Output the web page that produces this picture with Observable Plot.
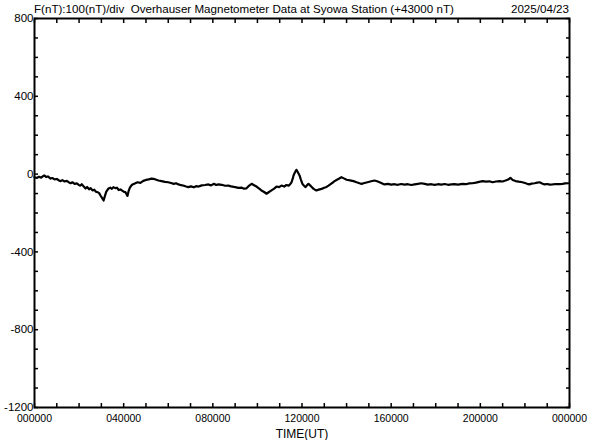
<!DOCTYPE html>
<html>
<head>
<meta charset="utf-8">
<script src="https://cdn.jsdelivr.net/npm/d3@7"></script>
<script src="https://cdn.jsdelivr.net/npm/@observablehq/plot@0.6"></script>
<style>
  html, body { margin: 0; padding: 0; background: white; }
  #wrap { width: 592px; height: 440px; position: relative; font-family: "Liberation Sans", Arial, sans-serif; }
  #title { height: 12px; position: relative; font-size: 11.6px; line-height: 12px; color: black; }
  #title .l { position: absolute; left: 34px; top: 3px; white-space: pre; }
  #title .r { position: absolute; right: 23px; top: 3px; }
  svg { overflow: visible; }
</style>
</head>
<body>
<div id="wrap">
  <div id="title"><span class="l">F(nT):100(nT)/div  Overhauser Magnetometer Data at Syowa Station (+43000 nT)</span><span class="r">2025/04/23</span></div>
  <div id="chart"></div>
</div>
<script>
const hours = [0.00,0.10,0.20,0.30,0.40,0.45,0.52,0.60,0.72,0.80,0.90,1.00,1.10,1.17,1.25,1.35,1.45,1.55,1.62,1.70,1.80,1.90,2.00,2.06,2.12,2.20,2.29,2.36,2.45,2.52,2.60,2.68,2.75,2.83,2.90,2.96,3.03,3.10,3.16,3.22,3.32,3.40,3.47,3.54,3.62,3.70,3.78,3.86,3.95,4.02,4.08,4.13,4.17,4.22,4.28,4.35,4.40,4.50,4.62,4.75,4.88,5.00,5.12,5.25,5.40,5.56,5.70,5.85,6.00,6.12,6.25,6.35,6.46,6.58,6.70,6.80,6.90,7.02,7.15,7.25,7.36,7.50,7.65,7.80,7.92,8.05,8.15,8.25,8.40,8.55,8.70,8.82,8.95,9.05,9.15,9.30,9.40,9.50,9.60,9.74,9.85,9.96,10.08,10.18,10.30,10.41,10.52,10.63,10.75,10.86,10.97,11.08,11.20,11.30,11.40,11.47,11.53,11.58,11.62,11.68,11.75,11.82,11.89,11.95,12.02,12.09,12.16,12.22,12.29,12.40,12.52,12.58,12.65,12.75,12.88,13.00,13.10,13.19,13.30,13.40,13.46,13.55,13.65,13.77,13.88,14.00,14.15,14.31,14.45,14.58,14.67,14.80,14.94,15.10,15.25,15.37,15.48,15.60,15.70,15.85,16.00,16.15,16.30,16.45,16.60,16.75,16.90,17.05,17.20,17.35,17.50,17.65,17.80,17.95,18.10,18.25,18.40,18.55,18.70,18.84,19.00,19.20,19.35,19.50,19.65,19.80,19.95,20.10,20.25,20.40,20.55,20.70,20.86,21.00,21.13,21.25,21.35,21.45,21.58,21.72,21.89,22.00,22.10,22.20,22.30,22.43,22.55,22.66,22.77,22.88,23.00,23.12,23.24,23.40,23.55,23.69,23.80,23.96];
const values = [-16,-20,-14,-18,-9,-7,-15,-12,-23,-20,-27,-25,-33,-36,-31,-38,-35,-43,-47,-42,-50,-48,-57,-59,-52,-63,-74,-66,-78,-72,-84,-80,-90,-93,-98,-110,-122,-136,-112,-90,-74,-70,-76,-67,-72,-70,-82,-79,-86,-92,-93,-104,-112,-88,-70,-58,-53,-48,-42,-45,-35,-30,-27,-23,-26,-33,-36,-40,-42,-46,-50,-47,-53,-57,-60,-64,-67,-63,-68,-62,-64,-58,-56,-53,-58,-50,-56,-53,-55,-60,-59,-63,-66,-68,-71,-70,-75,-74,-62,-50,-57,-64,-75,-84,-92,-101,-92,-84,-75,-64,-67,-59,-64,-56,-59,-52,-42,-25,-7,8,22,8,-7,-28,-50,-60,-67,-58,-50,-62,-76,-80,-84,-80,-76,-70,-66,-59,-50,-42,-36,-30,-24,-16,-22,-29,-32,-36,-42,-47,-50,-46,-42,-37,-33,-37,-42,-48,-53,-50,-54,-52,-55,-51,-54,-52,-56,-53,-50,-47,-50,-54,-52,-55,-52,-54,-51,-55,-53,-52,-54,-50,-52,-48,-47,-44,-40,-36,-39,-37,-42,-38,-36,-38,-33,-28,-19,-30,-36,-39,-42,-46,-50,-53,-49,-47,-44,-42,-48,-53,-51,-54,-53,-51,-52,-50,-48,-47];

const yMajor = [800, 400, 0, -400, -800, -1200];
const yMinor = d3.range(-1200, 801, 100);
const xMajor = [0, 4, 8, 12, 16, 20, 24];
const xMinor = d3.range(0, 25, 1);

const data = hours.map((h, i) => ({h, v: values[i]}));
const fmtX = h => String(h % 24).padStart(2, "0") + "0000";

const chart = Plot.plot({
  width: 592,
  height: 428,
  marginLeft: 34,
  marginRight: 23,
  marginTop: 6,
  marginBottom: 33,
  style: {fontFamily: "'Liberation Sans', Arial, sans-serif", fontSize: "11px", color: "black", background: "white", overflow: "visible"},
  x: {domain: [0, 24]},
  y: {domain: [-1200, 800]},
  marks: [
    Plot.axisY(yMinor, {anchor: "left", tickSize: -4, text: null, strokeWidth: 1.5, label: null}),
    Plot.axisY(yMinor, {anchor: "right", tickSize: -4, text: null, strokeWidth: 1.5, label: null}),
    Plot.axisY(yMajor, {anchor: "left", tickSize: 0, tickPadding: 1, tickFormat: d => String(d), fontSize: 11.5, label: null}),
    Plot.axisX(xMinor, {anchor: "bottom", tickSize: -4, text: null, strokeWidth: 1.5, label: null}),
    Plot.axisX(xMinor, {anchor: "top", tickSize: -4, text: null, strokeWidth: 1.5, label: null}),
    Plot.axisX(xMajor, {anchor: "bottom", tickSize: 0, tickPadding: 7, tickFormat: fmtX, fontSize: 10.5, label: null}),
    Plot.text(["TIME(UT)"], {frameAnchor: "bottom", dy: 30, lineAnchor: "bottom", fontSize: 12}),
    Plot.line(data, {x: "h", y: "v", stroke: "black", strokeWidth: 2.2}),
    Plot.frame({stroke: "black", strokeWidth: 2})
  ]
});
document.getElementById("chart").appendChild(chart);
</script>
</body>
</html>
